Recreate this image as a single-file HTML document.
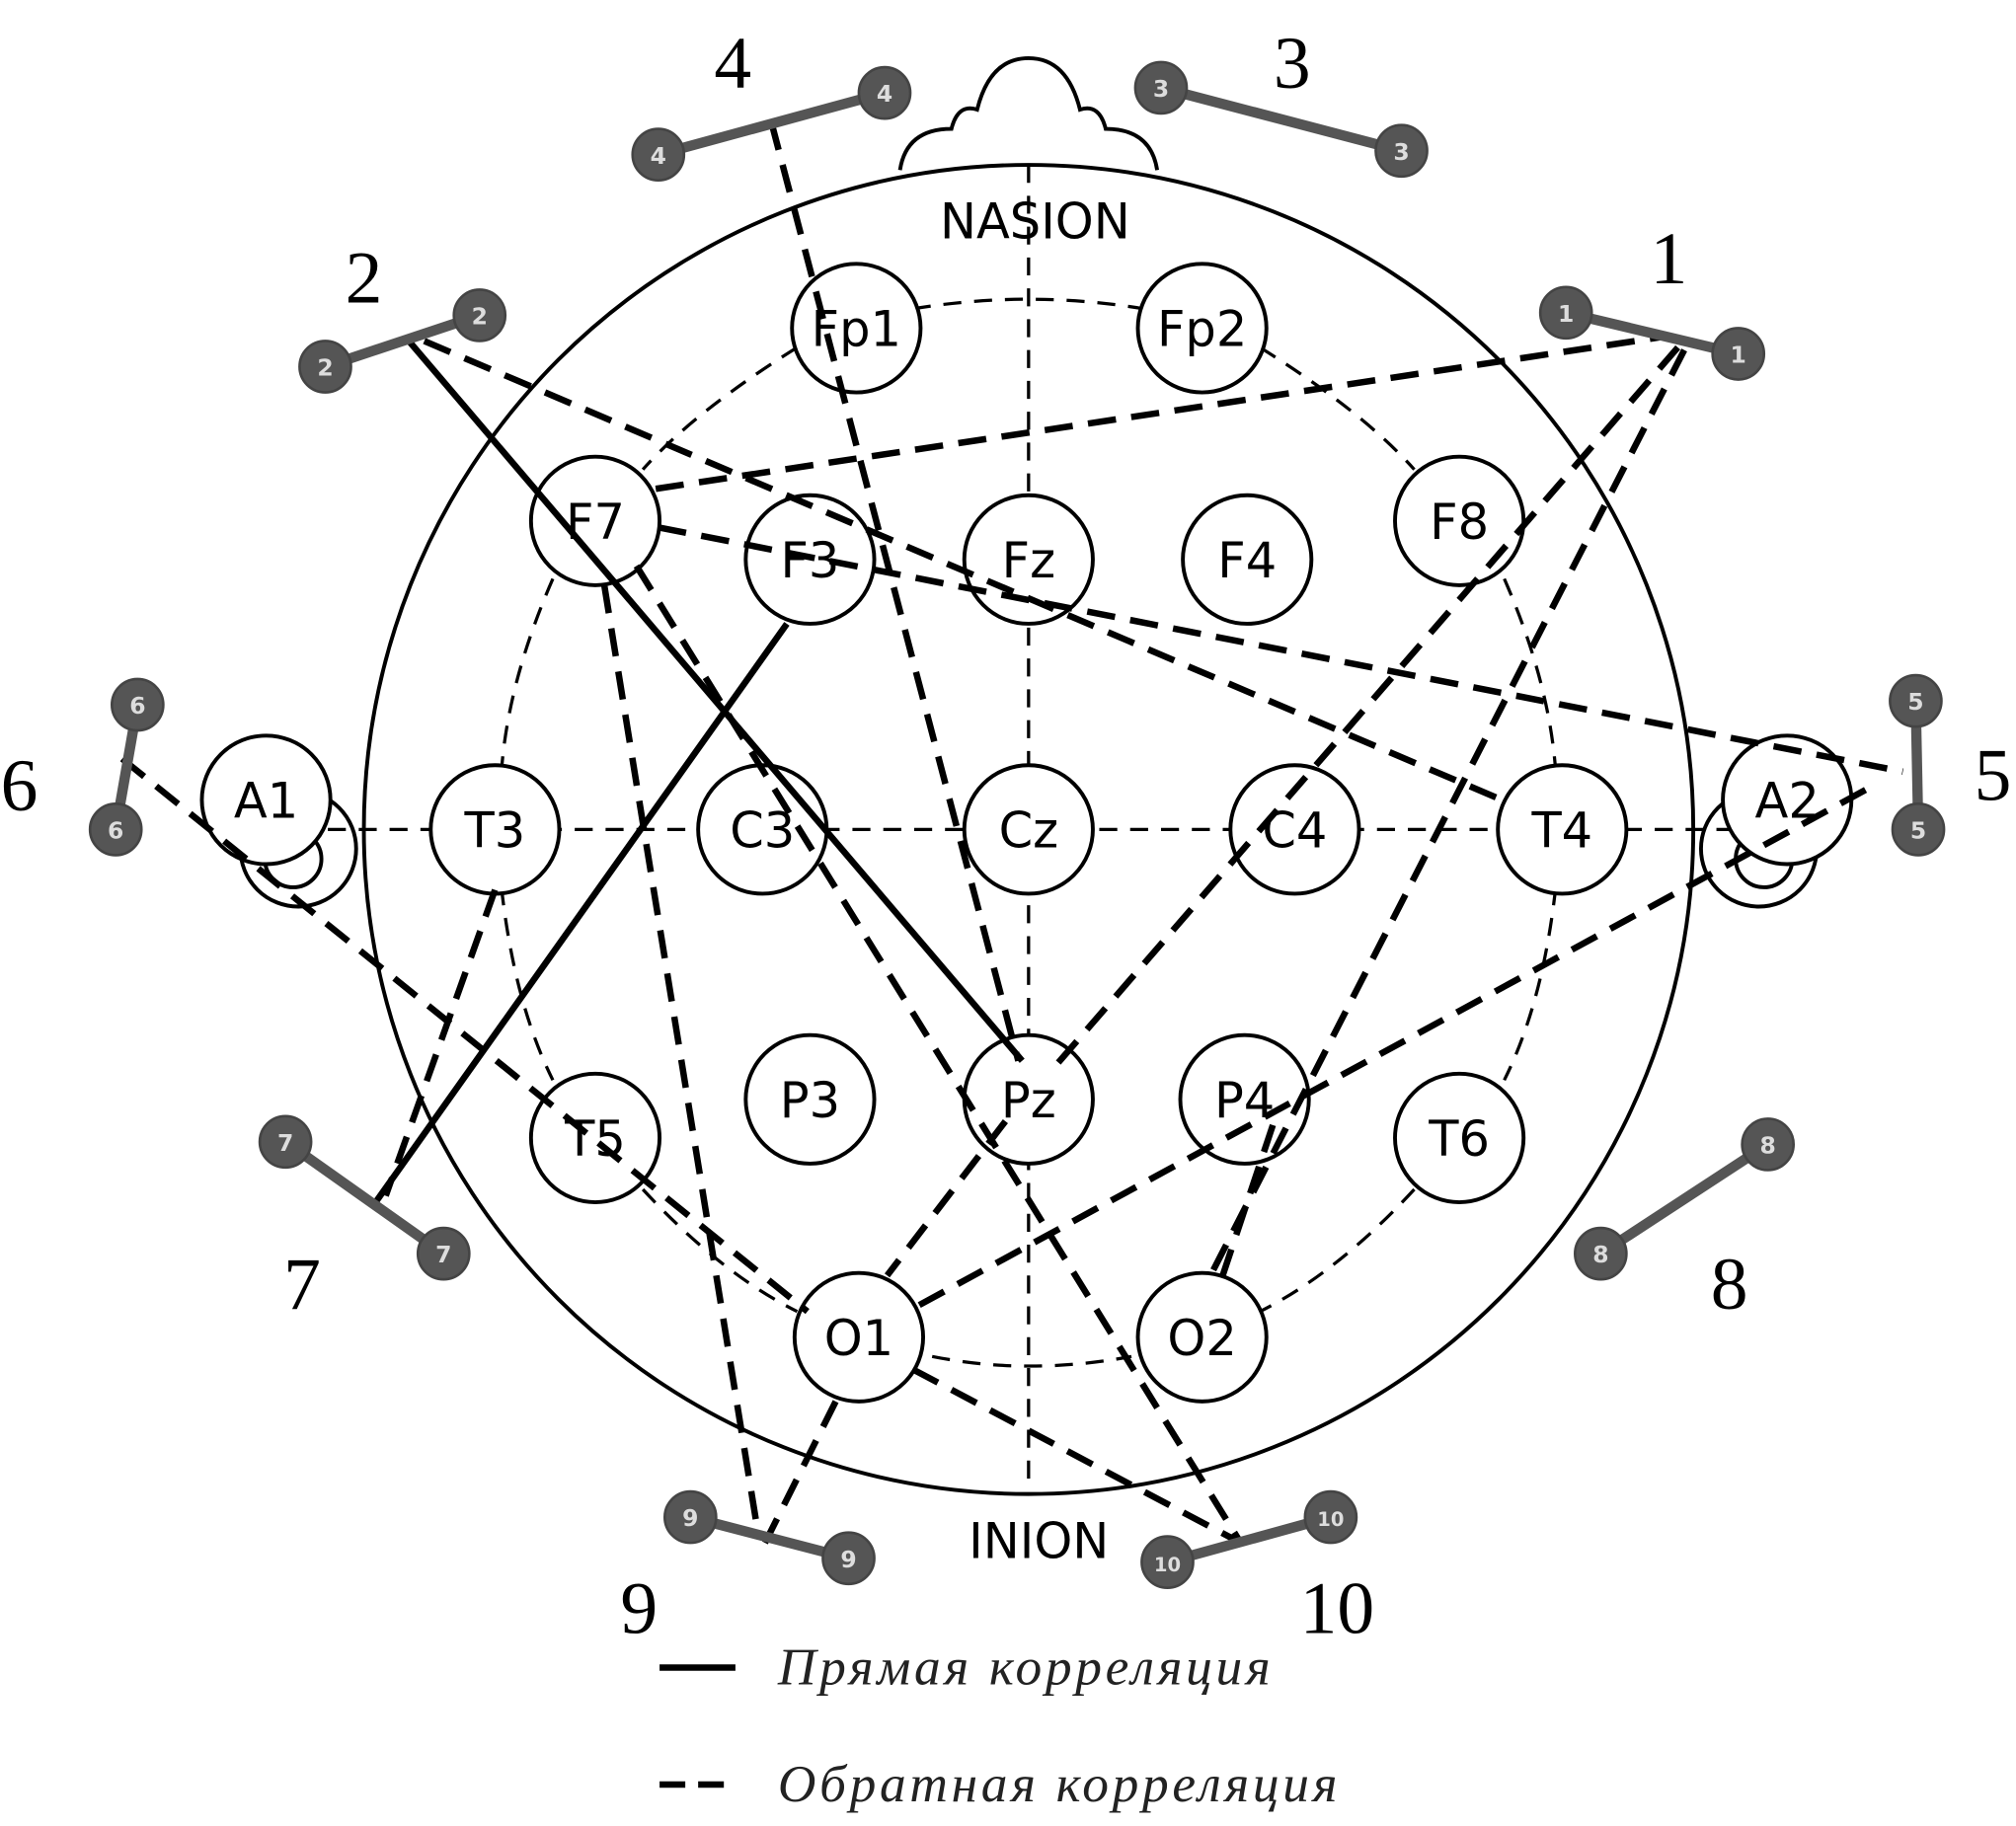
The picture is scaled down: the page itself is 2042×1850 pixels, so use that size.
<!DOCTYPE html>
<html><head><meta charset="utf-8"><style>
html,body{margin:0;padding:0;background:#fff}
svg{display:block}
</style></head><body>
<svg width="2042" height="1850" viewBox="0 0 1568 1420" xmlns="http://www.w3.org/2000/svg">
<rect width="1568" height="1420" fill="#fff"/>
<path d="M700,132 Q705,100 740,100 Q745,80 760,85 Q770,45 800,45 Q830,45 840,85 Q855,80 860,100 Q895,100 900,132" fill="#fff" stroke="#000" stroke-width="3"/>
<g fill="#fff" stroke="#000" stroke-width="3">
<circle cx="232" cy="660" r="45"/>
<circle cx="228" cy="668" r="22"/>
<circle cx="1368" cy="660" r="45"/>
<circle cx="1372" cy="668" r="22"/>
</g>
<circle cx="800" cy="645" r="517" fill="none" stroke="#000" stroke-width="3"/>
<g fill="none" stroke="#000" stroke-width="2.5" stroke-dasharray="14 10">
<line x1="800" y1="128" x2="800" y2="1160"/>
<line x1="255" y1="645" x2="1345" y2="645"/>
<path d="M710,240 Q800,225 890,240"/>
<path d="M620,270 Q540,320 500,365"/>
<path d="M980,270 Q1060,320 1100,365"/>
<path d="M430,450 Q395,530 390,600"/>
<path d="M1170,450 Q1205,530 1210,600"/>
<path d="M390,690 Q400,780 430,840"/>
<path d="M1210,690 Q1200,780 1170,840"/>
<path d="M500,925 Q560,990 620,1020"/>
<path d="M1100,925 Q1040,990 980,1020"/>
<path d="M725,1055 Q800,1070 880,1055"/>
</g>
<g fill="#fff" stroke="#000" stroke-width="3">
<circle cx="666" cy="255" r="50"/><circle cx="935" cy="255" r="50"/>
<circle cx="463" cy="405" r="50"/><circle cx="630" cy="435" r="50"/>
<circle cx="800" cy="435" r="50"/><circle cx="970" cy="435" r="50"/>
<circle cx="1135" cy="405" r="50"/>
<circle cx="207" cy="622" r="50"/><circle cx="385" cy="645" r="50"/>
<circle cx="593" cy="645" r="50"/><circle cx="800" cy="645" r="50"/>
<circle cx="1007" cy="645" r="50"/><circle cx="1215" cy="645" r="50"/>
<circle cx="1390" cy="622" r="50"/>
<circle cx="463" cy="885" r="50"/><circle cx="630" cy="855" r="50"/>
<circle cx="800" cy="855" r="50"/><circle cx="968" cy="855" r="50"/>
<circle cx="1135" cy="885" r="50"/>
<circle cx="668" cy="1040" r="50"/><circle cx="935" cy="1040" r="50"/>
</g>
<g font-family="'DejaVu Sans','Liberation Sans',sans-serif" font-size="38" text-anchor="middle" fill="#000">
<text x="666" y="269">Fp1</text><text x="935" y="269">Fp2</text>
<text x="463" y="419">F7</text><text x="630" y="449">F3</text>
<text x="800" y="449">Fz</text><text x="970" y="449">F4</text>
<text x="1135" y="419">F8</text>
<text x="207" y="636">A1</text><text x="385" y="659">T3</text>
<text x="593" y="659">C3</text><text x="800" y="659">Cz</text>
<text x="1007" y="659">C4</text><text x="1215" y="659">T4</text>
<text x="1390" y="636">A2</text>
<text x="463" y="899">T5</text><text x="630" y="869">P3</text>
<text x="800" y="869">Pz</text><text x="968" y="869">P4</text>
<text x="1135" y="899">T6</text>
<text x="668" y="1054">O1</text><text x="935" y="1054">O2</text>
<text x="805" y="185">NASION</text>
<text x="808" y="1212">INION</text>
</g>
<g fill="none" stroke="#000" stroke-width="5" stroke-dasharray="22 12">
<line x1="600" y1="95" x2="792" y2="825"/>
<line x1="330" y1="265" x2="1168" y2="622"/>
<line x1="510" y1="380" x2="1292" y2="262"/>
<line x1="512" y1="410" x2="1480" y2="600"/>
<line x1="1305" y1="270" x2="820" y2="830"/>
<line x1="1310" y1="272" x2="940" y2="995"/>
<line x1="95" y1="590" x2="628" y2="1020"/>
<line x1="470" y1="455" x2="590" y2="1195"/>
<line x1="495" y1="440" x2="965" y2="1200"/>
<line x1="385" y1="692" x2="300" y2="930"/>
<line x1="650" y1="1090" x2="595" y2="1200"/>
<line x1="710" y1="1065" x2="965" y2="1200"/>
<line x1="782" y1="872" x2="690" y2="992"/>
<line x1="990" y1="875" x2="950" y2="995"/>
<line x1="715" y1="1015" x2="1455" y2="612"/>
</g>
<g stroke="#000" stroke-width="5">
<line x1="318" y1="265" x2="795" y2="825"/>
<line x1="612" y1="485" x2="290" y2="938"/>
</g>
<g stroke="#555" stroke-width="8">
<line x1="1218" y1="243" x2="1352" y2="275"/>
<line x1="253" y1="285" x2="373" y2="245"/>
<line x1="903" y1="68" x2="1090" y2="117"/>
<line x1="512" y1="120" x2="688" y2="72"/>
<line x1="1490" y1="545" x2="1492" y2="645"/>
<line x1="107" y1="548" x2="90" y2="645"/>
<line x1="222" y1="888" x2="345" y2="975"/>
<line x1="1245" y1="975" x2="1375" y2="890"/>
<line x1="537" y1="1180" x2="660" y2="1212"/>
<line x1="908" y1="1215" x2="1035" y2="1180"/>
</g>
<g fill="#555" stroke="#444" stroke-width="2">
<circle cx="1218" cy="243" r="20"/><circle cx="1352" cy="275" r="20"/>
<circle cx="253" cy="285" r="20"/><circle cx="373" cy="245" r="20"/>
<circle cx="903" cy="68" r="20"/><circle cx="1090" cy="117" r="20"/>
<circle cx="512" cy="120" r="20"/><circle cx="688" cy="72" r="20"/>
<circle cx="1490" cy="545" r="20"/><circle cx="1492" cy="645" r="20"/>
<circle cx="107" cy="548" r="20"/><circle cx="90" cy="645" r="20"/>
<circle cx="222" cy="888" r="20"/><circle cx="345" cy="975" r="20"/>
<circle cx="1245" cy="975" r="20"/><circle cx="1375" cy="890" r="20"/>
<circle cx="537" cy="1180" r="20"/><circle cx="660" cy="1212" r="20"/>
<circle cx="908" cy="1215" r="20"/><circle cx="1035" cy="1180" r="20"/>
</g>
<g fill="#ddd" font-family="'DejaVu Sans',sans-serif" font-size="18" font-weight="bold" text-anchor="middle">
<text x="1218" y="250">1</text><text x="1352" y="282">1</text>
<text x="253" y="292">2</text><text x="373" y="252">2</text>
<text x="903" y="75">3</text><text x="1090" y="124">3</text>
<text x="512" y="127">4</text><text x="688" y="79">4</text>
<text x="1490" y="552">5</text><text x="1492" y="652">5</text>
<text x="107" y="555">6</text><text x="90" y="652">6</text>
<text x="222" y="895">7</text><text x="345" y="982">7</text>
<text x="1245" y="982">8</text><text x="1375" y="897">8</text>
<text x="537" y="1187">9</text><text x="660" y="1219">9</text>
<text x="908" y="1222" font-size="15">10</text><text x="1035" y="1187" font-size="15">10</text>
</g>
<g font-family="'Liberation Serif',serif" font-size="58" text-anchor="middle" fill="#000">
<text x="1298" y="220">1</text><text x="283" y="235">2</text>
<text x="1005" y="68">3</text><text x="570" y="68">4</text>
<text x="1550" y="622">5</text><text x="15" y="630">6</text>
<text x="235" y="1018">7</text><text x="1345" y="1018">8</text>
<text x="497" y="1270">9</text><text x="1040" y="1270">10</text>
</g>
<line x1="513" y1="1297" x2="572" y2="1297" stroke="#000" stroke-width="5"/>
<line x1="513" y1="1388" x2="572" y2="1388" stroke="#000" stroke-width="5" stroke-dasharray="20 10"/>
<g font-family="'Liberation Serif',serif" font-style="italic" font-size="41" fill="#222">
<text x="605" y="1310" textLength="383">Прямая корреляция</text>
<text x="605" y="1401" textLength="435">Обратная корреляция</text>
</g>
</svg>
</body></html>
